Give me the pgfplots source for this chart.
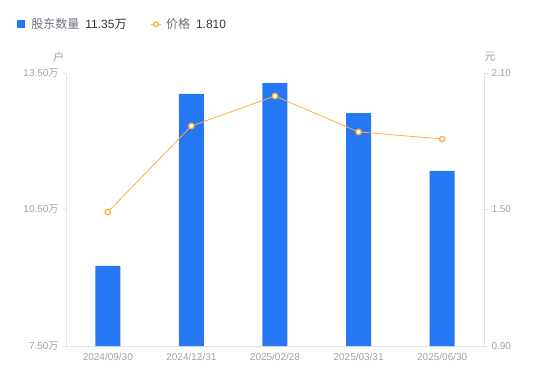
\documentclass[border=0pt]{standalone}
\usepackage{pgfplots}
\pgfplotsset{compat=1.18}
\usepackage{fontspec}
\setmainfont{Liberation Sans}
\newfontfamily\cjk{Noto Sans CJK SC}
\definecolor{barblue}{HTML}{2577F4}
\definecolor{lineor}{HTML}{FBB040}
\definecolor{tickgray}{HTML}{A0A0B0}
\definecolor{axgray}{HTML}{E2E2E6}
\definecolor{leggray}{HTML}{6E6E7A}
\definecolor{valdark}{HTML}{333333}
\begin{document}
\begin{tikzpicture}
\useasboundingbox (-66pt,-35pt) rectangle (484pt,346pt);
\begin{axis}[
  at={(0,0)}, anchor=south west,
  scale only axis, width=418pt, height=273pt,
  xmin=-0.5, xmax=4.5, ymin=7.5, ymax=13.5,
  clip=false,
  axis x line*=bottom, axis y line*=left,
  axis line style={draw=axgray, line width=0.8pt, -},
  xtick={0,1,2,3,4},
  xticklabels={2024/09/30,2024/12/31,2025/02/28,2025/03/31,2025/06/30},
  xtick style={draw=none},
  ytick={7.5,10.5,13.5},
  yticklabels={7.50{\cjk 万},10.50{\cjk 万},13.50{\cjk 万}},
  ytick style={draw=axgray, line width=0.8pt},
  tick align=outside, major tick length=4pt,
  ticklabel style={font=\fontsize{10}{12}\selectfont, text=tickgray},
  legend style={at={(axis description cs:-0.124,1.215)}, anchor=north west,
    draw=none, fill=none, font=\fontsize{12}{14}\selectfont, text=leggray,
    legend columns=2, /tikz/every even column/.append style={column sep=22pt}},
  legend cell align=left,
]
\addplot[ybar, bar width=25pt, fill=barblue, draw=none,
  legend image code/.code={\fill[barblue] (0pt,-4pt) rectangle (8pt,4pt); \path[draw=none,fill=none] (0pt,0pt) -- (12pt,0pt);}]
  coordinates {(0,9.26) (1,13.04) (2,13.28) (3,12.62) (4,11.35)};
\addlegendentry{{\cjk 股东数量}\enspace\textcolor{valdark}{11.35{\cjk 万}}}
\addlegendimage{legend image code/.code={\draw[lineor, line width=1pt] (0pt,0pt) -- (10pt,0pt); \draw[lineor, line width=1.3pt, fill=white] (5pt,0pt) circle (2.3pt); \path[draw=none,fill=none] (0pt,0pt) -- (13pt,0pt);}}
\addlegendentry{{\cjk 价格}\enspace\textcolor{valdark}{1.810}}
\node[text=tickgray, font=\cjk\fontsize{11}{13}\selectfont] at (axis description cs:-0.017,1.059) {户};
\node[text=tickgray, font=\cjk\fontsize{11}{13}\selectfont] at (axis description cs:1.014,1.059) {元};
\end{axis}
\begin{axis}[
  at={(0,0)}, anchor=south west,
  scale only axis, width=418pt, height=273pt,
  xmin=-0.5, xmax=4.5, ymin=0.9, ymax=2.1,
  clip=false,
  axis x line=none, axis y line*=right,
  axis line style={draw=axgray, line width=0.8pt, -},
  ytick={0.9,1.5,2.1},
  yticklabels={0.90,1.50,2.10},
  ytick style={draw=axgray, line width=0.8pt},
  tick align=outside, major tick length=4pt,
  ticklabel style={font=\fontsize{10}{12}\selectfont, text=tickgray},
]
\addplot[lineor, line width=0.8pt, mark=*, mark size=2.7pt,
  mark options={draw=lineor, fill=white, line width=1.3pt}]
  coordinates {(0,1.489) (1,1.867) (2,1.999) (3,1.841) (4,1.810)};
\end{axis}
\end{tikzpicture}
\end{document}
